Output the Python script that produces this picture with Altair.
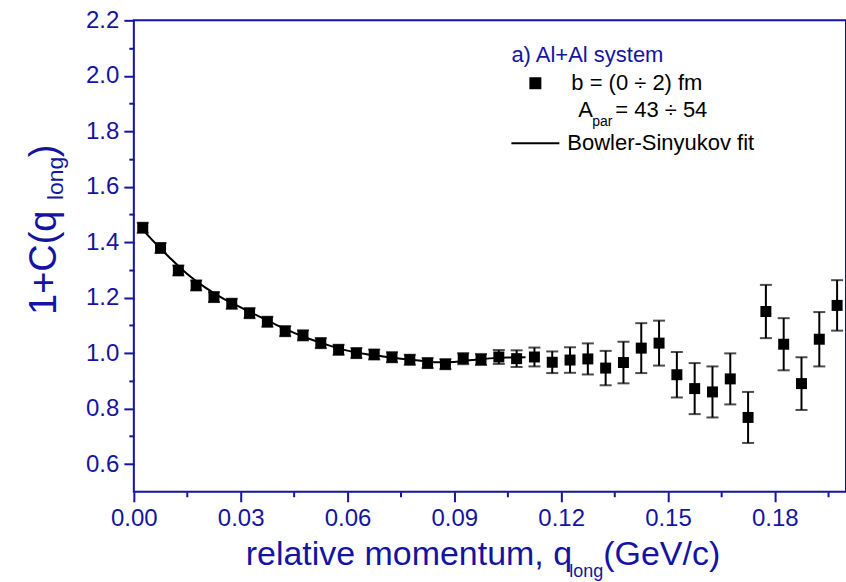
import altair as alt
import pandas as pd

# ---------------- data ----------------
q_vals = [0.0025, 0.0075, 0.0125, 0.0175, 0.0225, 0.0275, 0.0325, 0.0375, 0.0425, 0.0475,
          0.0525, 0.0575, 0.0625, 0.0675, 0.0725, 0.0775, 0.0825, 0.0875, 0.0925, 0.0975,
          0.1025, 0.1075, 0.1125, 0.1175, 0.1225, 0.1275, 0.1325, 0.1375, 0.1425, 0.1475,
          0.1525, 0.1575, 0.1625, 0.1675, 0.1725, 0.1775, 0.1825, 0.1875, 0.1925, 0.1975]
c_vals = [1.452, 1.379, 1.298, 1.244, 1.202, 1.178, 1.144, 1.113, 1.079, 1.064,
          1.036, 1.012, 1.000, 0.995, 0.985, 0.976, 0.964, 0.960, 0.980, 0.977,
          0.986, 0.980, 0.986, 0.967, 0.975, 0.979, 0.946, 0.966, 1.018, 1.036,
          0.922, 0.872, 0.860, 0.907, 0.768, 1.150, 1.032, 0.890, 1.050, 1.172]
err_vals = [0.018, 0.018, 0.018, 0.018, 0.018, 0.018, 0.018, 0.018, 0.018, 0.018,
            0.018, 0.018, 0.018, 0.018, 0.018, 0.018, 0.018, 0.018, 0.020, 0.020,
            0.025, 0.030, 0.034, 0.039, 0.046, 0.056, 0.062, 0.075, 0.090, 0.081,
            0.082, 0.092, 0.092, 0.092, 0.092, 0.096, 0.094, 0.095, 0.098, 0.091]

fit_q = [0.0025, 0.005, 0.01, 0.015, 0.02, 0.025, 0.03, 0.035, 0.04, 0.045, 0.05, 0.055,
         0.06, 0.065, 0.07, 0.075, 0.08, 0.085, 0.09, 0.095, 0.10, 0.105, 0.11]
fit_c = [1.445, 1.410, 1.345, 1.285, 1.237, 1.197, 1.165, 1.133, 1.102, 1.073, 1.048, 1.027,
         1.009, 0.997, 0.988, 0.980, 0.973, 0.967, 0.968, 0.975, 0.981, 0.984, 0.985]

x_ticks = [0.0, 0.015, 0.03, 0.045, 0.06, 0.075, 0.09, 0.105, 0.12, 0.135, 0.15, 0.165, 0.18, 0.195]
y_ticks = [0.6, 0.7, 0.8, 0.9, 1.0, 1.1, 1.2, 1.3, 1.4, 1.5, 1.6, 1.7, 1.8, 1.9, 2.0, 2.1, 2.2]

df = pd.DataFrame({"q": q_vals, "c": c_vals, "err": err_vals})
df["lo"] = df["c"] - df["err"]
df["hi"] = df["c"] + df["err"]
fit_df = pd.DataFrame({"q": fit_q, "c": fit_c})

BLUE = "#1414a0"
FONT = "Liberation Sans"
W, H = 713, 472

xs = alt.Scale(domain=[0, 0.2], nice=False, zero=False)
ys = alt.Scale(domain=[0.5, 2.2], nice=False, zero=False)

X_MAJOR = "abs(datum.value * 100 / 3 - round(datum.value * 100 / 3)) < 0.01"
Y_MAJOR = "abs(datum.value * 5 - round(datum.value * 5)) < 0.01"

x_axis = alt.Axis(orient="bottom", values=x_ticks, title=None, grid=False,
                  domain=False, ticks=True,
                  tickSize={"condition": {"test": X_MAJOR, "value": 10}, "value": 5},
                  tickWidth=2, tickColor=BLUE,
                  labelExpr=f"({X_MAJOR}) ? format(datum.value, '.2f') : ''",
                  labelColor=BLUE, labelFontSize=24, labelFont=FONT, labelPadding=5,
                  labelFlush=False, labelOverlap=False)
y_axis = alt.Axis(orient="left", values=y_ticks, title=None, grid=False,
                  domain=False, ticks=True,
                  tickSize={"condition": {"test": Y_MAJOR, "value": 10}, "value": 5},
                  tickWidth=2, tickColor=BLUE,
                  labelExpr=f"({Y_MAJOR}) ? format(datum.value, '.1f') : ''",
                  labelColor=BLUE, labelFontSize=24, labelFont=FONT, labelPadding=5,
                  labelFlush=False, labelOverlap=False)


def X(field):
    return alt.X(field, scale=xs, axis=x_axis)


def Y(field):
    return alt.Y(field, scale=ys, axis=y_axis)


points = alt.Chart(df).mark_square(size=121, color="black", opacity=1).encode(
    x=X("q:Q"), y=Y("c:Q"))
err_rule = alt.Chart(df).mark_rule(color="black", strokeWidth=2).encode(
    x=X("q:Q"), y=Y("lo:Q"), y2="hi:Q")
caps_lo = alt.Chart(df).mark_tick(orient="horizontal", size=12, thickness=2, color="black").encode(
    x=X("q:Q"), y=Y("lo:Q"))
caps_hi = alt.Chart(df).mark_tick(orient="horizontal", size=12, thickness=2, color="black").encode(
    x=X("q:Q"), y=Y("hi:Q"))
fit_line = alt.Chart(fit_df).mark_line(color="black", strokeWidth=2, interpolate="monotone").encode(
    x=X("q:Q"), y=Y("c:Q"))


def txt(s, x, y, size, color="black", angle=0, align="left", baseline="middle"):
    return alt.Chart(pd.DataFrame({"t": [s]})).mark_text(
        fontSize=size, font=FONT, color=color, align=align, baseline=baseline, angle=angle
    ).encode(x=alt.value(x), y=alt.value(y), text="t:N")


# axis titles (with subscripts)
x_title = [
    txt("relative momentum, q", 112, 545, 34, BLUE, baseline="alphabetic"),
    txt("long", 436, 557, 18, BLUE, baseline="alphabetic"),
    txt("(GeV/c)", 470, 545, 34, BLUE, baseline="alphabetic"),
]
y_title = [
    txt("1+C(q", -89, 295, 38, BLUE, angle=270),
    txt("long", -78, 180, 23, BLUE, angle=270),
    txt(")", -89, 137, 38, BLUE, angle=270),
]

# legend
leg_square = alt.Chart(pd.DataFrame({"t": ["s"]})).mark_square(size=144, color="black", opacity=1).encode(
    x=alt.value(402), y=alt.value(63))
leg_line = alt.Chart(pd.DataFrame({"t": ["l"]})).mark_rule(color="black", strokeWidth=2).encode(
    x=alt.value(378), x2=alt.value(426), y=alt.value(123))
legend = [
    txt("a) Al+Al system", 378, 35, 22, BLUE),
    leg_square,
    txt("b = (0 ÷ 2) fm", 438, 63, 22),
    txt("A", 445, 90, 22),
    txt("par", 459, 102, 14),
    txt("= 43 ÷ 54", 482, 90, 22),
    leg_line,
    txt("Bowler-Sinyukov fit", 434, 123, 22),
]

chart = alt.layer(
    points, err_rule, caps_lo, caps_hi, fit_line, *x_title, *y_title, *legend
).properties(
    width=W, height=H,
    autosize=alt.AutoSizeParams(type="none"),
    padding={"left": 134, "top": 20, "right": 0, "bottom": 90},
    background="white",
).configure_view(stroke=BLUE, strokeWidth=2)

chart.save("out.html", embed_options={"renderer": "svg", "actions": False})
